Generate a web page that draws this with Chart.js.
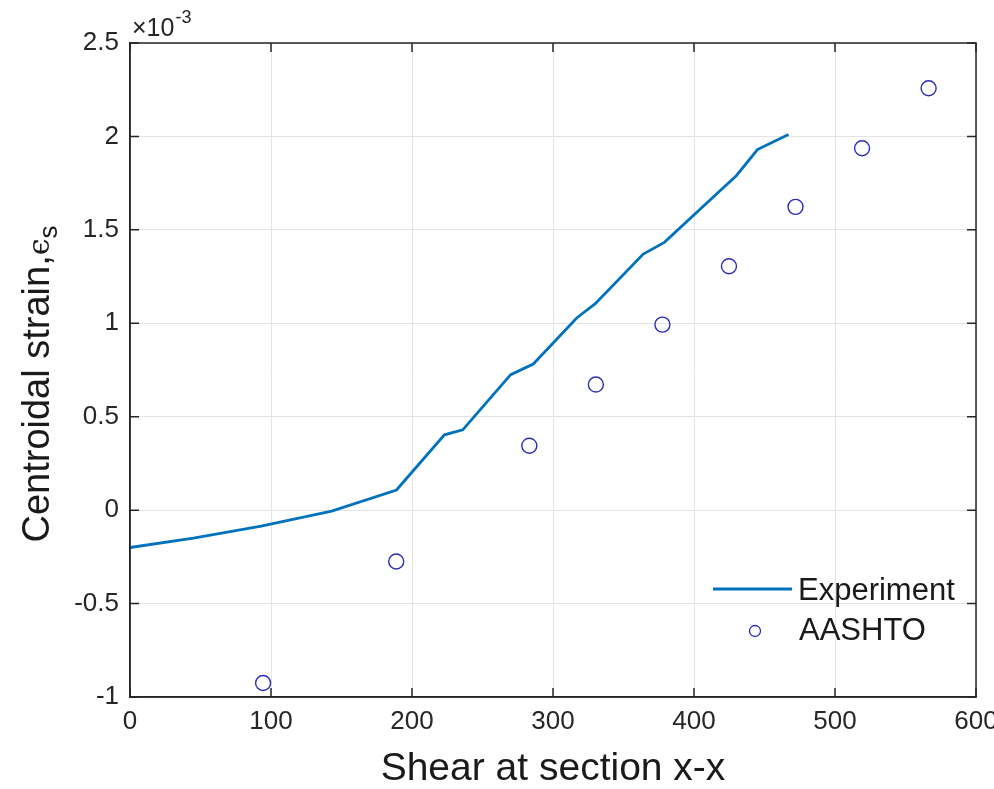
<!DOCTYPE html>
<html>
<head>
<meta charset="utf-8">
<script src="https://cdn.jsdelivr.net/npm/chart.js@4.4.1/dist/chart.umd.min.js"></script>
<style>
  html, body { margin: 0; padding: 0; background: #ffffff; }
  #wrap { width: 994px; height: 789px; }
</style>
</head>
<body>
<div id="wrap"><canvas id="chart" width="994" height="789"></canvas></div>
<script>
// Measured response: shear at section x-x vs centroidal strain (values x 10^-3)
const expShear  = [0, 45, 93, 143, 189, 223, 236, 270, 286, 317, 330, 364, 379, 420, 430, 445, 467];
const expStrain = [-0.2, -0.15, -0.085, -0.005, 0.108, 0.403, 0.43, 0.725, 0.782, 1.03, 1.105, 1.37, 1.433, 1.72, 1.79, 1.93, 2.01];

// AASHTO predicted values
const aashtoShear  = [94.4, 188.8, 283.2, 330.4, 377.6, 424.8, 472.0, 519.2, 566.4];
const aashtoStrain = [-0.925, -0.275, 0.345, 0.672, 0.993, 1.305, 1.623, 1.937, 2.258];

// Axis ranges / tick spacing
const xRange = [0, 600], xStep = 100;
const yRange = [-1, 2.5], yStep = 0.5;

const seriesNames = ['Experiment', 'AASHTO'];
const xTitle = 'Shear at section x-x';
const yTitleMain = 'Centroidal strain,';
const yTitleSym = '\u03f5';
const yTitleSub = 's';
const expLabel = ['\u00d710', '-3'];

const FONT = '"Liberation Sans", Arial, Helvetica, sans-serif';
const AXIS_COLOR = '#262626';
const LINE_COLOR = '#0072BD';
const MARK_COLOR = '#2b2bb8';

const toPts = (xs, ys) => xs.map((x, i) => ({ x: x, y: ys[i] }));
const fmtTick = v => String(Math.round(v * 10) / 10);

// Box, inward ticks, y title, exponent and legend
const decorations = {
  id: 'decorations',
  afterDraw(chart) {
    const ctx = chart.ctx;
    const a = chart.chartArea;
    const xs = chart.scales.x, ys = chart.scales.y;
    ctx.save();
    ctx.strokeStyle = AXIS_COLOR;
    ctx.lineWidth = 1.5;
    // full box
    ctx.strokeRect(a.left, a.top, a.right - a.left, a.bottom - a.top);
    // inward ticks
    const tl = 9;
    ctx.beginPath();
    xs.ticks.forEach(t => {
      const px = xs.getPixelForValue(t.value);
      ctx.moveTo(px, a.bottom); ctx.lineTo(px, a.bottom - tl);
      ctx.moveTo(px, a.top); ctx.lineTo(px, a.top + tl);
    });
    ys.ticks.forEach(t => {
      const py = ys.getPixelForValue(t.value);
      ctx.moveTo(a.left, py); ctx.lineTo(a.left + tl, py);
      ctx.moveTo(a.right, py); ctx.lineTo(a.right - tl, py);
    });
    ctx.stroke();

    // exponent label above the y axis
    ctx.fillStyle = AXIS_COLOR;
    ctx.textBaseline = 'alphabetic';
    ctx.textAlign = 'left';
    ctx.font = '25px ' + FONT;
    ctx.fillText(expLabel[0], a.left + 2, a.top - 7);
    const w0 = ctx.measureText(expLabel[0]).width;
    ctx.font = '18px ' + FONT;
    ctx.fillText(expLabel[1], a.left + 2 + w0 + 1, a.top - 20);

    // y-axis title with subscript
    ctx.save();
    const cy = (a.top + a.bottom) / 2 + 14;
    ctx.translate(49, cy);
    ctx.rotate(-Math.PI / 2);
    ctx.fillStyle = '#1a1a1a';
    ctx.font = '38px ' + FONT;
    const wm = ctx.measureText(yTitleMain).width;
    ctx.font = '30px "DejaVu Serif", serif';
    const ws = ctx.measureText(yTitleSym).width;
    ctx.font = '26px ' + FONT;
    const wsub = ctx.measureText(yTitleSub).width;
    let x0 = -(wm + ws + wsub) / 2;
    ctx.font = '38px ' + FONT;
    ctx.fillText(yTitleMain, x0, 0);
    x0 += wm;
    ctx.font = '30px "DejaVu Serif", serif';
    ctx.fillText(yTitleSym, x0, 0);
    x0 += ws;
    ctx.font = '26px ' + FONT;
    ctx.fillText(yTitleSub, x0, 8);
    ctx.restore();

    // legend (inside axes, lower right, no box)
    const ds0 = chart.data.datasets[0], ds1 = chart.data.datasets[1];
    ctx.strokeStyle = ds0.borderColor;
    ctx.lineWidth = ds0.borderWidth;
    ctx.beginPath();
    ctx.moveTo(713, 589); ctx.lineTo(792, 589);
    ctx.stroke();
    ctx.strokeStyle = ds1.borderColor;
    ctx.lineWidth = 1.3;
    ctx.beginPath();
    ctx.arc(755, 631, 5.5, 0, Math.PI * 2);
    ctx.stroke();
    ctx.fillStyle = '#1a1a1a';
    ctx.font = '31px ' + FONT;
    ctx.textBaseline = 'middle';
    ctx.fillText(ds0.label, 798, 591);
    ctx.fillText(ds1.label, 799, 631);
    ctx.restore();
  }
};

new Chart(document.getElementById('chart'), {
  type: 'scatter',
  data: {
    datasets: [
      {
        label: seriesNames[0],
        data: toPts(expShear, expStrain),
        showLine: true,
        borderColor: LINE_COLOR,
        backgroundColor: LINE_COLOR,
        borderWidth: 2.8,
        pointRadius: 0,
        tension: 0
      },
      {
        label: seriesNames[1],
        data: toPts(aashtoShear, aashtoStrain),
        showLine: false,
        borderColor: MARK_COLOR,
        backgroundColor: 'rgba(0,0,0,0)',
        borderWidth: 1.4,
        pointStyle: 'circle',
        pointRadius: 7.5
      }
    ]
  },
  options: {
    responsive: false,
    animation: false,
    events: [],
    layout: { padding: { left: 0, right: 18, top: 43, bottom: 0 } },
    plugins: { legend: { display: false }, tooltip: { enabled: false } },
    scales: {
      x: {
        type: 'linear',
        min: xRange[0], max: xRange[1],
        afterFit(s) { s.height = 92; s.paddingLeft = 0; s.paddingRight = 0; },
        ticks: { stepSize: xStep, color: AXIS_COLOR, font: { family: FONT, size: 26 }, padding: 9, maxRotation: 0, callback: fmtTick },
        grid: { color: '#e4e4e4', lineWidth: 1, drawTicks: false },
        border: { color: AXIS_COLOR, width: 1.5 },
        title: { display: true, text: xTitle, color: '#1a1a1a', font: { family: FONT, size: 39, lineHeight: 1 }, padding: { top: 0, bottom: 0 } }
      },
      y: {
        type: 'linear',
        min: yRange[0], max: yRange[1],
        afterFit(s) { s.width = 130; s.paddingTop = 0; s.paddingBottom = 0; },
        ticks: { stepSize: yStep, color: AXIS_COLOR, font: { family: FONT, size: 26 }, padding: 11, callback: fmtTick },
        grid: { color: '#e4e4e4', lineWidth: 1, drawTicks: false },
        border: { color: AXIS_COLOR, width: 1.5 }
      }
    }
  },
  plugins: [decorations]
});
</script>
</body>
</html>
